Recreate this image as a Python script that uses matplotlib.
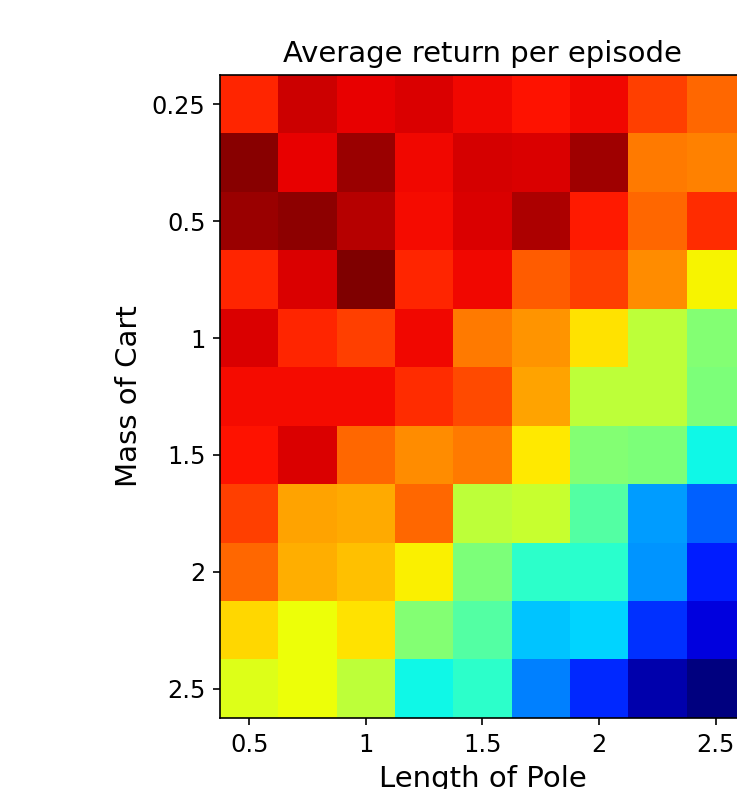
import numpy as np
import matplotlib
matplotlib.use('Agg')
import matplotlib.pyplot as plt

# normalised average return, rows = mass of cart, cols = length of pole
returns = np.array([
    [0.87, 0.93, 0.91, 0.92, 0.90, 0.89, 0.90, 0.84, 0.80],
    [0.99, 0.91, 0.976, 0.90, 0.925, 0.92, 0.97, 0.78, 0.77],
    [0.975, 0.985, 0.95, 0.895, 0.92, 0.96, 0.88, 0.80, 0.86],
    [0.87, 0.92, 1.00, 0.87, 0.90, 0.81, 0.84, 0.76, 0.652],
    [0.92, 0.87, 0.84, 0.90, 0.78, 0.75, 0.67, 0.58, 0.51],
    [0.895, 0.895, 0.895, 0.86, 0.83, 0.735, 0.58, 0.58, 0.50],
    [0.89, 0.92, 0.80, 0.76, 0.78, 0.662, 0.51, 0.50, 0.37],
    [0.84, 0.735, 0.73, 0.80, 0.58, 0.59, 0.45, 0.28, 0.22],
    [0.80, 0.725, 0.705, 0.655, 0.50, 0.405, 0.40, 0.27, 0.155],
    [0.68, 0.64, 0.67, 0.51, 0.45, 0.32, 0.335, 0.175, 0.084],
    [0.62, 0.64, 0.58, 0.37, 0.405, 0.25, 0.165, 0.04, 0.0],
])

x_tick_pos = [0, 2, 4, 6, 8]
x_tick_labels = ['0.5', '1', '1.5', '2', '2.5']
y_tick_pos = [0, 2, 4, 6, 8, 10]
y_tick_labels = ['0.25', '0.5', '1', '1.5', '2', '2.5']

fig = plt.figure(figsize=(737 / 150, 789 / 150), dpi=150)
ax = fig.add_axes([220 / 737, 71 / 789, 525 / 737, 643 / 789])
ax.imshow(returns, cmap='jet', vmin=0, vmax=1, interpolation='nearest', aspect='auto')

ax.set_xticks(x_tick_pos)
ax.set_xticklabels(x_tick_labels)
ax.set_yticks(y_tick_pos)
ax.set_yticklabels(y_tick_labels)
ax.tick_params(labelsize=11.5)
ax.set_xlabel('Length of Pole', fontsize=14)
ax.set_ylabel('Mass of Cart', fontsize=14)
ax.set_title('Average return per episode', fontsize=14)

fig.savefig('out.png', dpi=150)
